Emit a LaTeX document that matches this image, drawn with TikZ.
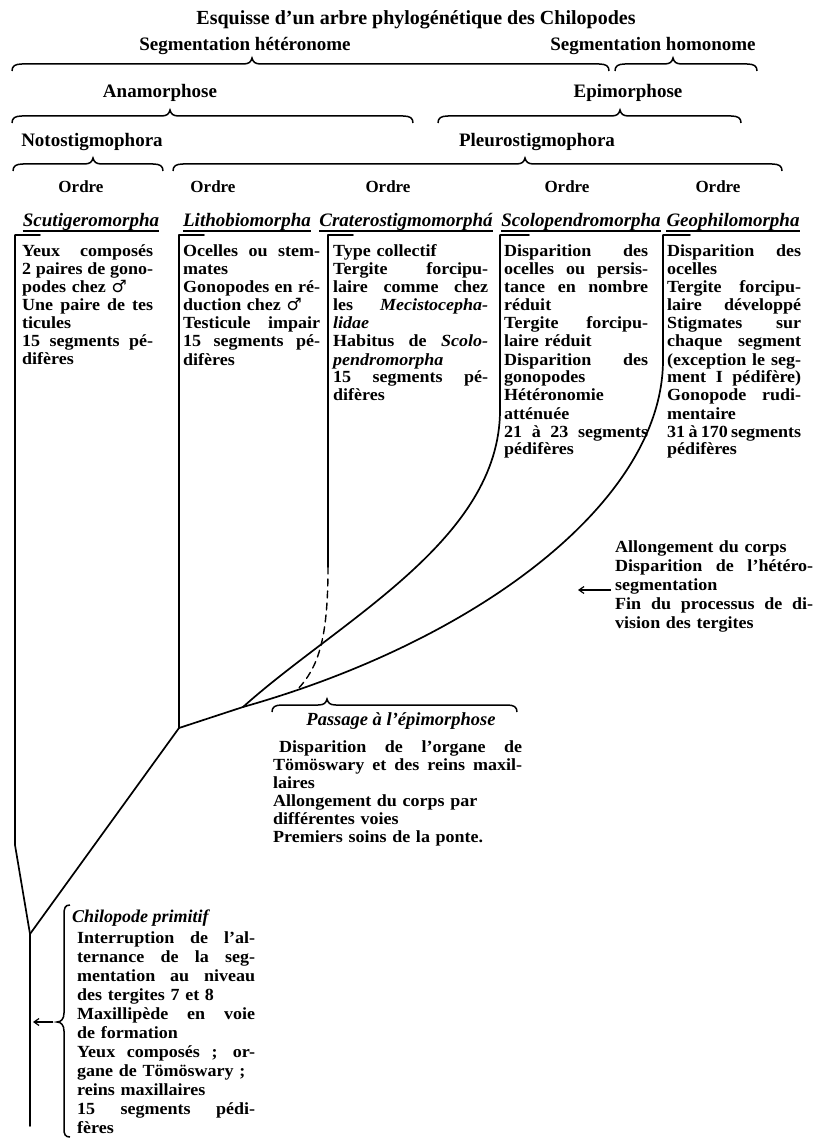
\documentclass[tikz,border=0pt]{standalone}
\usepackage{fontspec}
\setmainfont{Liberation Serif}
\newfontfamily\bodyf[FakeStretch=1.06,Ligatures=TeX]{Liberation Serif}
\newfontfamily\symf{DejaVu Sans}
\usetikzlibrary{arrows.meta}
\newlength\colw
\newcommand\J[1]{\leavevmode\hbox to \colw{\spaceskip=0.25em plus 1fil minus 0.08em\relax #1}}
\newcommand\malesym{{\symf\bfseries ♂}}
\newcommand\hbr[4]{\draw[bracel] (#1,#4+7) .. controls (#1,#4+2) and (#1+3,#4) .. (#1+10,#4) -- (#2-9,#4) .. controls (#2-3,#4) and (#2-1,#4-2) .. (#2,#4-6) .. controls (#2+1,#4-2) and (#2+3,#4) .. (#2+9,#4) -- (#3-10,#4) .. controls (#3-3,#4) and (#3,#4+2) .. (#3,#4+7);}
\begin{document}
\begin{tikzpicture}[x=1pt,y=-1pt,
 treeline/.style={line width=1.7pt, line cap=round, line join=round},
 bracel/.style={line width=1.5pt},
 ttl/.style={font=\fontsize{20}{22}\selectfont\bfseries, inner sep=0, anchor=base},
 hdr/.style={font=\fontsize{19}{22}\selectfont\bfseries, inner sep=0, anchor=base},
 ord/.style={font=\fontsize{17}{20}\selectfont\bfseries, inner sep=0, anchor=base},
 nm/.style={font=\fontsize{19}{22}\selectfont\bfseries\itshape, inner sep=0, anchor=base},
 ul/.style={line width=1.2pt},
 body/.style={font=\bodyf\fontsize{17}{18}\selectfont\bfseries, inner sep=0, anchor=base west, align=left},
 arr/.style={line width=1.2pt, -{Straight Barb[length=5pt,width=7pt]}},
]
\useasboundingbox[fill=white] (0,0) rectangle (819,1139);

% headers
\node[ttl] (title) at (416,25) {Esquisse d'un arbre phylogénétique des Chilopodes};
\node[hdr] (seghet) at (245,51) {Segmentation hétéronome};
\node[hdr] (seghom) at (653,51) {Segmentation homonome};
\hbr{12}{252}{609}{64}
\hbr{615}{673}{757}{64}
\node[hdr] (ana) at (160,98) {Anamorphose};
\node[hdr] (epi) at (628,98) {Epimorphose};
\hbr{12}{170}{413}{116}
\hbr{438}{620}{741}{116}
\node[hdr] (noto) at (92,147) {Notostigmophora};
\node[hdr] (pleuro) at (537,147) {Pleurostigmophora};
\hbr{13}{93}{163}{164}
\hbr{173}{525}{782}{164}

\node[ord] (o1) at (81,193) {Ordre};
\node[ord] (o2) at (213,193) {Ordre};
\node[ord] (o3) at (388,193) {Ordre};
\node[ord] (o4) at (567,193) {Ordre};
\node[ord] (o5) at (718,193) {Ordre};

\node[nm] (n1) at (91,227) {Scutigeromorpha};
\node[nm] (n2) at (247,227) {Lithobiomorpha};
\node[nm] (n3) at (406,227) {Craterostigmomorphá};
\node[nm] (n4) at (581,227) {Scolopendromorpha};
\node[nm] (n5) at (733,227) {Geophilomorpha};
\foreach \n in {n1,n2,n3,n4,n5}
  \draw[ul] ([yshift=-4pt]\n.base west) -- ([yshift=-4pt]\n.base east);

% column texts
\node[body, text width=131pt] (t1) at (22,257) {\setlength\colw{131pt}\J{Yeux composés}\\\J{2 paires de gono-}\\podes chez \malesym\\\J{Une paire de tes}\\ticules\\\J{15 segments pé-}\\difères};
\node[body, text width=137pt] (t2) at (183,257) {\setlength\colw{137pt}\J{Ocelles ou stem-}\\mates\\\J{Gonopodes en ré-}\\duction chez \malesym\\\J{Testicule impair}\\\J{15 segments pé-}\\difères};
\node[body, text width=155pt] (t3) at (333,257) {\setlength\colw{155pt}Type collectif\\\J{Tergite forcipu-}\\\J{laire comme chez}\\\J{les \textit{Mecistocepha-}}\\\textit{lidae}\\\J{Habitus de \textit{Scolo-}}\\\textit{pendromorpha}\\\J{15 segments pé-}\\difères};
\node[body, text width=144pt] (t4) at (504,257) {\setlength\colw{144pt}\J{Disparition des}\\\J{ocelles ou persis-}\\\J{tance en nombre}\\réduit\\\J{Tergite forcipu-}\\laire réduit\\\J{Disparition des}\\gonopodes\\Hétéronomie\\atténuée\\\J{21 à 23 segments}\\pédifères};
\node[body, text width=134pt] (t5) at (667,257) {\setlength\colw{134pt}\J{Disparition des}\\ocelles\\\J{Tergite forcipu-}\\\J{laire développé}\\\J{Stigmates sur}\\\J{chaque segment}\\\J{(exception le seg-}\\\J{ment I pédifère)}\\\J{Gonopode rudi-}\\mentaire\\\J{31 à 170 segments}\\pédifères};

% tree
\coordinate (root) at (30,934);
\coordinate (base) at (30,1126);
\coordinate (lj) at (179,728);
\coordinate (cv) at (243,707);
\coordinate (c1a) at (40,235); \coordinate (c1b) at (15,235); \coordinate (c1c) at (15,845);
\coordinate (c2a) at (204,235); \coordinate (c2b) at (179,235);
\coordinate (c3a) at (353,235); \coordinate (c3b) at (328,235); \coordinate (c3c) at (328,567); \coordinate (c3d) at (297,690);
\coordinate (c4a) at (529,235); \coordinate (c4b) at (500,235); \coordinate (c4c) at (500,410);
\coordinate (c5a) at (690,235); \coordinate (c5b) at (663,235); \coordinate (c5c) at (663,360);
\draw[treeline] (c1a) -- (c1b) -- (c1c) -- (root) -- (base);
\draw[treeline] (root) -- (lj) -- (cv);
\draw[treeline] (c2a) -- (c2b) -- (lj);
\draw[treeline] (c3a) -- (c3b) -- (c3c);
\draw[treeline, line width=1.4pt, dash pattern=on 7pt off 5pt] (c3c) .. controls (328,640) and (318,668) .. (c3d);
\draw[treeline] (c4a) -- (c4b) -- (c4c) .. controls (500,540) and (340,620) .. (cv);
\draw[treeline] (c5a) -- (c5b) -- (c5c) .. controls (663,500) and (480,640) .. (cv);

% right block
\node[body, font=\bodyf\fontsize{17}{19}\selectfont\bfseries, text width=198pt] (rt) at (615,552) {\setlength\colw{198pt}Allongement du corps\\\J{Disparition de l'hétéro-}\\segmentation\\\J{Fin du processus de di-}\\vision des tergites};
\coordinate (ra1) at (611,590); \coordinate (ra2) at (578,590);
\draw[arr] (ra1) -- (ra2);

% passage
\hbr{272}{327}{517}{705}
\node[nm, font=\fontsize{18.5}{20}\selectfont\bfseries\itshape] (pass) at (401,725) {Passage à l'épimorphose};
\node[body, text width=249pt] (pt) at (273,752) {\setlength\colw{249pt}\J{\hspace*{6pt}Disparition de l'organe de}\\\J{Tömöswary et des reins maxil-}\\laires\\Allongement du corps par\\différentes voies\\Premiers soins de la ponte.};

% bottom
\node[nm, anchor=base west, font=\fontsize{18}{20}\selectfont\bfseries\itshape] (chil) at (72,922) {Chilopode primitif};
\node[body, font=\bodyf\fontsize{17}{19}\selectfont\bfseries, text width=178pt] (bt) at (77,943) {\setlength\colw{178pt}\J{Interruption de l'al-}\\\J{ternance de la seg-}\\\J{mentation au niveau}\\des tergites 7 et 8\\\J{Maxillipède en voie}\\de formation\\\J{Yeux composés ; or-}\\gane de Tömöswary ;\\reins maxillaires\\\J{15 segments pédi-}\\fères};
\draw[bracel] (70,905) .. controls (65,905) and (64,908) .. (64,915) -- (64,1013) .. controls (64,1019) and (61,1022) .. (57,1022) .. controls (61,1022) and (64,1025) .. (64,1031) -- (64,1129) .. controls (64,1134) and (65,1137) .. (70,1137);
\coordinate (ba1) at (53,1022); \coordinate (ba2) at (33,1022);
\draw[arr] (ba1) -- (ba2);
\end{tikzpicture}
\end{document}
